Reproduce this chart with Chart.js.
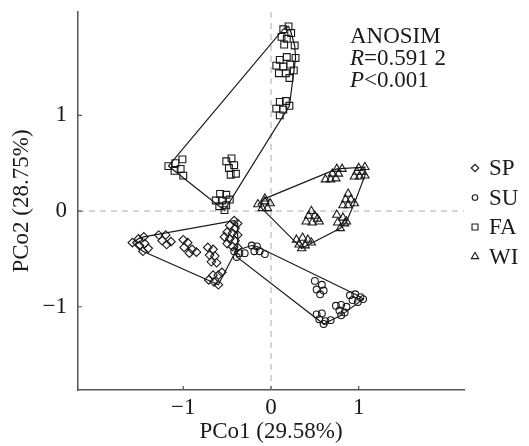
<!DOCTYPE html>
<html>
<head>
<meta charset="utf-8">
<script src="https://cdn.jsdelivr.net/npm/chart.js@4.4.0/dist/chart.umd.min.js"></script>
<style>
  body { margin: 0; background: #fff; }
  #wrap { width: 529px; height: 446px; }
</style>
</head>
<body>
<div id="wrap"><canvas id="pcoa" width="529" height="446"></canvas></div>
<script>
const groups = ["SP", "SU", "FA", "WI"];
const markers = ["rectRot", "circle", "rect", "triangle"];
const markerSizes = [4.3, 3.4, 4.8, 4.8];
const xTicks = [-1, 0, 1];
const yTicks = [-1, 0, 1];
const xTitle = "PCo1 (29.58%)";
const yTitle = "PCo2 (28.75%)";

// PCo1, PCo2
const spPoints = [
  [-1.58, -0.33], [-1.51, -0.29], [-1.45, -0.27], [-1.5, -0.36], [-1.44, -0.34], [-1.4, -0.39], [-1.46, -0.42],
  [-1.28, -0.25], [-1.2, -0.25], [-1.24, -0.31], [-1.19, -0.35], [-1.14, -0.32],
  [-1.0, -0.3], [-0.95, -0.33], [-0.99, -0.38], [-0.9, -0.4], [-0.85, -0.43], [-0.93, -0.44],
  [-0.72, -0.38], [-0.66, -0.4], [-0.7, -0.46], [-0.64, -0.47], [-0.68, -0.53], [-0.62, -0.54],
  [-0.71, -0.72], [-0.65, -0.74], [-0.6, -0.77], [-0.66, -0.67], [-0.6, -0.67], [-0.56, -0.64],
  [-0.42, -0.1], [-0.38, -0.13], [-0.47, -0.15], [-0.41, -0.18], [-0.5, -0.22], [-0.44, -0.23],
  [-0.38, -0.25], [-0.53, -0.27], [-0.47, -0.29], [-0.41, -0.31], [-0.5, -0.34], [-0.44, -0.37], [-0.38, -0.38]
];
const suPoints = [
  [-0.42, -0.42], [-0.36, -0.44], [-0.3, -0.44], [-0.39, -0.48],
  [-0.22, -0.36], [-0.16, -0.37], [-0.19, -0.42], [-0.13, -0.42], [-0.07, -0.45],
  [0.5, -0.73], [0.58, -0.77], [0.52, -0.82], [0.6, -0.83], [0.56, -0.87],
  [0.9, -0.88], [0.96, -0.87], [1.02, -0.9], [0.93, -0.93], [0.99, -0.95], [1.05, -0.92],
  [0.74, -0.99], [0.8, -0.98], [0.86, -1.0], [0.78, -1.04], [0.84, -1.06], [0.8, -1.09],
  [0.52, -1.08], [0.58, -1.07], [0.55, -1.13], [0.62, -1.15], [0.68, -1.14], [0.6, -1.18]
];
const faPoints = [
  [0.14, 1.9], [0.2, 1.93], [0.23, 1.86], [0.12, 1.82], [0.18, 1.8], [0.27, 1.73], [0.15, 1.74],
  [0.1, 1.58], [0.18, 1.61], [0.28, 1.6], [0.06, 1.52], [0.14, 1.51], [0.22, 1.53],
  [0.09, 1.44], [0.17, 1.44], [0.26, 1.47], [0.21, 1.39],
  [0.1, 1.14], [0.17, 1.15], [0.21, 1.1], [0.06, 1.07], [0.14, 1.06], [0.1, 1.0],
  [-1.17, 0.47], [-1.09, 0.5], [-1.01, 0.54], [-1.1, 0.42], [-1.03, 0.44], [-1.0, 0.37],
  [-0.51, 0.52], [-0.45, 0.55], [-0.42, 0.48], [-0.48, 0.45], [-0.46, 0.38], [-0.4, 0.39],
  [-0.58, 0.18], [-0.51, 0.17], [-0.63, 0.11], [-0.56, 0.11], [-0.47, 0.12], [-0.59, 0.05], [-0.51, 0.06], [-0.53, 0.01]
];
const wiPoints = [
  [-0.15, 0.07], [-0.07, 0.1], [-0.01, 0.08], [-0.1, 0.03], [-0.04, 0.03], [-0.07, 0.13],
  [0.62, 0.33], [0.68, 0.33], [0.74, 0.34], [0.7, 0.39], [0.77, 0.39], [0.81, 0.44], [0.75, 0.44],
  [0.95, 0.36], [1.01, 0.36], [1.07, 0.37], [0.98, 0.41], [1.04, 0.41], [1.07, 0.46], [1.0, 0.45],
  [0.4, -0.11], [0.47, -0.12], [0.55, -0.11], [0.43, -0.05], [0.5, -0.05], [0.46, 0.0], [0.53, -0.08],
  [0.82, 0.06], [0.88, 0.06], [0.95, 0.08], [0.85, 0.12], [0.91, 0.12], [0.88, 0.18],
  [0.75, -0.04], [0.82, -0.07], [0.76, -0.12], [0.84, -0.13], [0.79, -0.18], [0.86, -0.11],
  [0.29, -0.3], [0.36, -0.28], [0.42, -0.3], [0.32, -0.35], [0.39, -0.36], [0.46, -0.33], [0.35, -0.39]
];
const groupPoints = [spPoints, suPoints, faPoints, wiPoints];

const serif = "'Liberation Serif', 'Times New Roman', serif";
const ink = "#1a1a1a";
const fontSize = 23;

// convex hull (monotone chain), closed
function hull(pts) {
  const p = pts.slice().sort((a, b) => a[0] - b[0] || a[1] - b[1]);
  const cross = (o, a, b) => (a[0] - o[0]) * (b[1] - o[1]) - (a[1] - o[1]) * (b[0] - o[0]);
  const lower = [], upper = [];
  for (const q of p) {
    while (lower.length >= 2 && cross(lower[lower.length - 2], lower[lower.length - 1], q) <= 0) lower.pop();
    lower.push(q);
  }
  for (let i = p.length - 1; i >= 0; i--) {
    const q = p[i];
    while (upper.length >= 2 && cross(upper[upper.length - 2], upper[upper.length - 1], q) <= 0) upper.pop();
    upper.push(q);
  }
  const h = lower.slice(0, -1).concat(upper.slice(0, -1));
  h.push(h[0]);
  return h;
}

const toXY = (a) => a.map(([x, y]) => ({ x, y }));

const datasets = [];
groups.forEach((g, i) => {
  datasets.push({
    label: g,
    data: toXY(groupPoints[i]),
    pointStyle: markers[i],
    pointRadius: markerSizes[i],
    pointBorderWidth: 1.1,
    borderColor: ink,
    backgroundColor: "rgba(0,0,0,0)",
    order: 1,
  });
});
groups.forEach((g, i) => {
  datasets.push({
    label: g + " hull",
    data: toXY(hull(groupPoints[i])),
    showLine: true,
    pointRadius: 0,
    borderColor: ink,
    borderWidth: 1.2,
    fill: false,
    tension: 0,
    order: 2,
  });
});

const fmt = (v) => (v < 0 ? "\u2212" + Math.abs(v) : String(v));

const decor = {
  id: "decor",
  beforeDatasetsDraw(chart) {
    const { ctx, chartArea: a, scales: { x, y } } = chart;
    ctx.save();
    ctx.strokeStyle = "#aaa";
    ctx.lineWidth = 1;
    ctx.setLineDash([6, 5]);
    const x0 = x.getPixelForValue(0), y0 = y.getPixelForValue(0);
    ctx.beginPath();
    ctx.moveTo(a.left, y0); ctx.lineTo(a.right, y0);
    ctx.moveTo(x0, a.top); ctx.lineTo(x0, a.bottom);
    ctx.stroke();
    ctx.restore();
  },
  afterDraw(chart) {
    const { ctx, chartArea: a, scales: { x, y } } = chart;
    ctx.save();
    // inside tick marks
    ctx.strokeStyle = "#555";
    ctx.lineWidth = 1.2;
    ctx.beginPath();
    xTicks.forEach((v) => { const px = x.getPixelForValue(v); ctx.moveTo(px, a.bottom); ctx.lineTo(px, a.bottom - 4); });
    yTicks.forEach((v) => { const py = y.getPixelForValue(v); ctx.moveTo(a.left, py); ctx.lineTo(a.left + 4, py); });
    ctx.stroke();

    // ANOSIM note
    const f = fontSize + "px " + serif, fi = "italic " + f;
    ctx.fillStyle = ink;
    ctx.textBaseline = "alphabetic";
    ctx.textAlign = "left";
    const tx = 350;
    ctx.font = f;
    ctx.fillText("ANOSIM", tx, 43);
    ctx.font = fi;
    ctx.fillText("R", tx, 65);
    let w = ctx.measureText("R").width;
    ctx.font = f;
    ctx.fillText("=0.591 2", tx + w, 65);
    ctx.font = fi;
    ctx.fillText("P", tx, 87);
    w = ctx.measureText("P").width;
    ctx.font = f;
    ctx.fillText("<0.001", tx + w, 87);

    // legend
    const lx = 475, ly = 168, step = 29.5;
    ctx.textBaseline = "middle";
    groups.forEach((g, i) => {
      ctx.strokeStyle = ink;
      ctx.fillStyle = "rgba(0,0,0,0)";
      ctx.lineWidth = 1.1;
      Chart.helpers.drawPoint(ctx, { pointStyle: markers[i], radius: markerSizes[i] - 0.6, borderWidth: 1.1 }, lx, ly + i * step);
      ctx.fillStyle = ink;
      ctx.font = f;
      ctx.fillText(g, lx + 14, ly + i * step + 1);
    });
    ctx.restore();
  },
};

new Chart(document.getElementById("pcoa"), {
  type: "scatter",
  data: { datasets },
  options: {
    responsive: false,
    devicePixelRatio: 1,
    animation: false,
    events: [],
    layout: { padding: { top: 12, right: 65, left: 0, bottom: 0 } },
    plugins: { legend: { display: false }, tooltip: { enabled: false } },
    scales: {
      x: {
        type: "linear",
        min: -2.2,
        max: 2.2,
        afterBuildTicks: (s) => { s.ticks = xTicks.map((v) => ({ value: v })); },
        afterFit: (s) => { s.height = 56; s.paddingLeft = 0; s.paddingRight = 0; },
        grid: { display: false, drawTicks: false },
        border: { color: "#555", width: 1.5 },
        ticks: { color: ink, font: { family: serif, size: fontSize }, padding: 4, callback: fmt },
        title: { display: true, text: xTitle, color: ink, font: { family: serif, size: fontSize }, padding: { top: 0, bottom: 0 } },
      },
      y: {
        type: "linear",
        min: -1.87,
        max: 2.08,
        afterBuildTicks: (s) => { s.ticks = yTicks.map((v) => ({ value: v })); },
        afterFit: (s) => { s.width = 78; s.paddingTop = 0; s.paddingBottom = 0; },
        grid: { display: false, drawTicks: false },
        border: { color: "#555", width: 1.5 },
        ticks: { color: ink, font: { family: serif, size: fontSize }, padding: 11, callback: fmt },
        title: { display: true, text: yTitle, color: ink, font: { family: serif, size: fontSize }, padding: { top: 8, bottom: 0 } },
      },
    },
  },
  plugins: [decor],
});
</script>
</body>
</html>
